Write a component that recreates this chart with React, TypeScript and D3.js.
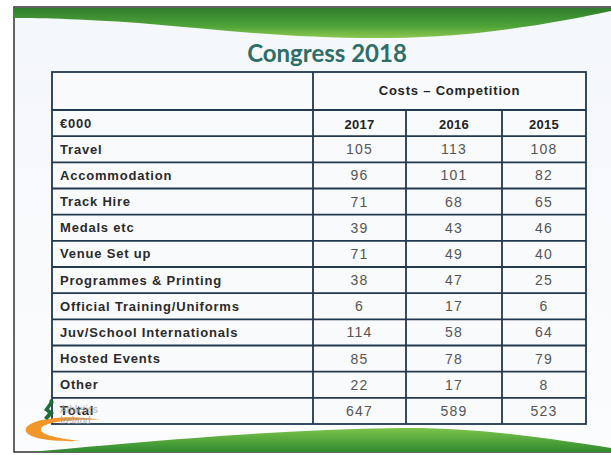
import React from 'react'
import * as d3 from 'd3'

// table content (€000)
const categories = [
  'Travel',
  'Accommodation',
  'Track Hire',
  'Medals etc',
  'Venue Set up',
  'Programmes & Printing',
  'Official Training/Uniforms',
  'Juv/School Internationals',
  'Hosted Events',
  'Other',
]
const years = ['2017', '2016', '2015']
const values2017 = [105, 96, 71, 39, 71, 38, 6, 114, 85, 22]
const values2016 = [113, 101, 68, 43, 49, 47, 17, 58, 78, 17]
const values2015 = [108, 82, 65, 46, 40, 25, 6, 64, 79, 8]
const totals = [647, 589, 523]

const W = 611
const H = 455
const lineColor = '#22384f'
const font = '"Liberation Sans", Arial, sans-serif'

const App = () => {
  const series = [values2017, values2016, values2015]
  const rowKeys = ['€000', ...categories, 'Total']

  // rows
  const y = d3.scaleBand<string>().domain(rowKeys).range([110, 424])
  const tableTop = 72
  const tableLeft = 52
  const tableRight = 586
  const splitX = 313

  // year columns (slightly uneven on the slide)
  const colEdges = [splitX, 406, 502, tableRight]
  const colX = d3.scaleOrdinal<string, number>().domain(years).range(colEdges.slice(0, 3))
  const colW = (yr: string) => colEdges[years.indexOf(yr) + 1] - colEdges[years.indexOf(yr)]
  const midY = (k: string) => (y(k) ?? 0) + y.bandwidth() / 2

  const topWave = 'M14,8 L611,8 L611,11 C560,22 480,37 390,38 C300,39 220,30 150,24 C90,19 40,18 14,18 Z'
  const bottomWave = 'M30,452 C120,444 260,430 400,428 C480,427 560,440 611,448 L611,452 Z'

  return (
    <svg width={W} height={H} style={{ position: 'absolute', left: 0, top: 0 }} fontFamily={font}>
      <defs>
        <linearGradient id="bg" x1="0" y1="0" x2="0" y2="1">
          <stop offset="0" stopColor="#f4f7fb" />
          <stop offset="1" stopColor="#fbfcfd" />
        </linearGradient>
        <linearGradient id="gTop" x1="0" y1="0" x2="0" y2="1">
          <stop offset="0" stopColor="#2f7d2c" />
          <stop offset="0.6" stopColor="#4ea338" />
          <stop offset="1" stopColor="#8cc850" />
        </linearGradient>
        <linearGradient id="gBot" x1="0" y1="0" x2="0" y2="1">
          <stop offset="0" stopColor="#7cc44a" />
          <stop offset="1" stopColor="#2f8a2f" />
        </linearGradient>
      </defs>

      <rect x={0} y={0} width={W} height={H} fill="#ffffff" />
      {/* slide */}
      <rect x={14} y={7} width={W} height={445} fill="url(#bg)" stroke="#333" strokeWidth={1.5} />
      <path d={topWave} fill="url(#gTop)" />
      <path d={bottomWave} fill="url(#gBot)" />

      {/* title */}
      <text x={327} y={62} textAnchor="middle" fontFamily="Lato, 'Open Sans', sans-serif" fontWeight={700} fontSize={24} fill="#2f6d68">
        Congress 2018
      </text>

      {/* table */}
      <rect x={tableLeft} y={tableTop} width={tableRight - tableLeft} height={424 - tableTop} fill="#f9fafc" />
      <g stroke={lineColor} strokeWidth={1.8}>
        <rect x={tableLeft} y={tableTop} width={tableRight - tableLeft} height={424 - tableTop} fill="none" />
        <line x1={splitX} x2={splitX} y1={tableTop} y2={424} />
        {years.slice(1).map(yr => (
          <line key={yr} x1={colX(yr)} x2={colX(yr)} y1={110} y2={424} />
        ))}
        {rowKeys.map(k => (
          <line key={k} x1={tableLeft} x2={tableRight} y1={y(k)} y2={y(k)} />
        ))}
      </g>

      <text x={(splitX + tableRight) / 2} y={95} textAnchor="middle" fontSize={13} fontWeight={700} letterSpacing={0.8} fill="#222">
        Costs – Competition
      </text>

      {rowKeys.map(k => (
        <text key={k} x={60} y={midY(k) + 4.5} fontSize={13} fontWeight={700} letterSpacing={0.8} fill="#2a2a2a">
          {k}
        </text>
      ))}

      {years.map(yr => (
        <text key={yr} x={colX(yr) + colW(yr) / 2} y={midY('€000') + 5.5} textAnchor="middle" fontSize={13} fontWeight={700} letterSpacing={0.3} fill="#222">
          {yr}
        </text>
      ))}

      {years.map((yr, j) =>
        categories.map((c, i) => (
          <text key={yr + c} x={colX(yr) + colW(yr) / 2} y={midY(c) + 5} textAnchor="middle" fontSize={14} letterSpacing={1.2} fill="#555">
            {series[j][i]}
          </text>
        ))
      )}
      {years.map((yr, j) => (
        <text key={'t' + yr} x={colX(yr) + colW(yr) / 2} y={midY('Total') + 5} textAnchor="middle" fontSize={14} letterSpacing={1.2} fill="#555">
          {totals[j]}
        </text>
      ))}

      {/* logo */}
      <path d="M100,420 C70,414 32,418 26,428 C22,438 50,442 80,441 C55,438 36,434 42,427 C50,421 76,419 100,420 Z" fill="#f0962a" />
      <path d="M50,399 L54,402 L49,409 L54,413 L47,420 L44,418 L48,413 L44,410 L49,403 Z" fill="#1f6b3a" />
      <text x={60} y={413} fontSize={10} fill="#9aa0a8" opacity={0.8}>Athletics</text>
      <text x={60} y={424} fontSize={10} fill="#9aa0a8" opacity={0.8}>Ireland</text>
    </svg>
  )
}

export default App
